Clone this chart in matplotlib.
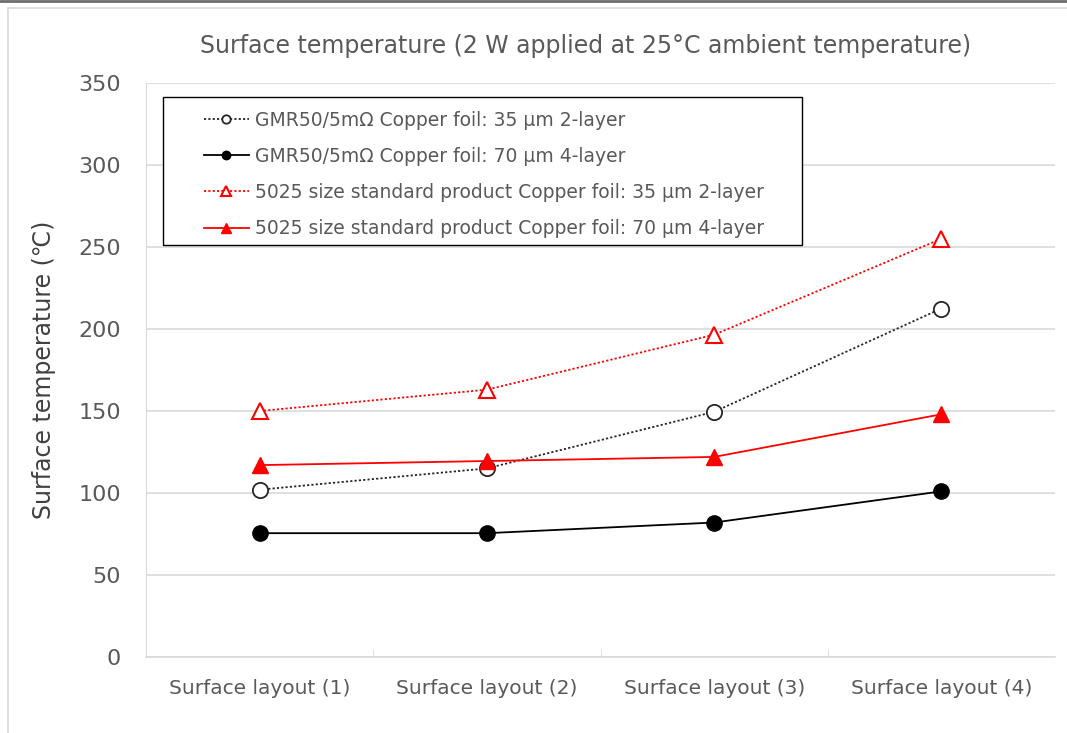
import matplotlib.pyplot as plt
from matplotlib.patches import Rectangle
import numpy as np

# Values
layouts = ['Surface layout (1)', 'Surface layout (2)', 'Surface layout (3)', 'Surface layout (4)']
gmr_35um_2layer = [102, 115, 149.5, 212.5]
gmr_70um_4layer = [75.5, 75.5, 82, 101]
std_35um_2layer = [150, 163, 196.5, 255]
std_70um_4layer = [117, 119.5, 122, 148]

labels = ['GMR50/5mΩ Copper foil: 35 μm 2-layer',
          'GMR50/5mΩ Copper foil: 70 μm 4-layer',
          '5025 size standard product Copper foil: 35 μm 2-layer',
          '5025 size standard product Copper foil: 70 μm 4-layer']

text_gray = '#595959'
grid_gray = '#d9d9d9'

fig = plt.figure(figsize=(10.67, 7.33), dpi=100)
ax = fig.add_axes([146 / 1067, 76 / 733, 909 / 1067, 574 / 733])

x = np.arange(len(layouts))

ax.plot(x, gmr_35um_2layer, color='#262626', linestyle=(0, (1.2, 1.2)), linewidth=1.3,
        marker='o', markersize=11, markerfacecolor='white', markeredgecolor='#262626',
        markeredgewidth=1.3, label=labels[0], zorder=4)
ax.plot(x, gmr_70um_4layer, color='black', linestyle='-', linewidth=1.3,
        marker='o', markersize=11, markerfacecolor='black', label=labels[1], zorder=4)
ax.plot(x, std_35um_2layer, color='#ff0000', linestyle=(0, (1.2, 1.2)), linewidth=1.3,
        marker='^', markersize=12, markerfacecolor='white', markeredgecolor='#ff0000',
        markeredgewidth=1.5, label=labels[2], zorder=4)
ax.plot(x, std_70um_4layer, color='#ff0000', linestyle='-', linewidth=1.3,
        marker='^', markersize=12, markerfacecolor='#ff0000', label=labels[3], zorder=4)

ax.set_xlim(-0.5, len(layouts) - 0.5)
ax.set_ylim(0, 350)
ax.set_yticks(np.arange(0, 351, 50))
ax.set_xticks(x)
ax.set_xticklabels(layouts, fontsize=14.5, color=text_gray)
ax.set_xticks(np.arange(0.5, len(layouts) - 0.5, 1), minor=True)
ax.tick_params(axis='x', which='major', length=0, pad=16)
ax.tick_params(axis='x', which='minor', direction='in', length=6, color=grid_gray)
ax.tick_params(axis='y', length=0, labelsize=16, labelcolor=text_gray, pad=18)

ax.grid(axis='y', color=grid_gray, linewidth=1.2)
ax.set_axisbelow(True)
for side in ['top', 'right']:
    ax.spines[side].set_visible(False)
ax.spines['left'].set_color(grid_gray)
ax.spines['bottom'].set_color(grid_gray)
ax.spines['bottom'].set_linewidth(1.2)

ax.set_ylabel('Surface temperature (℃)', fontsize=17, color='#404040', labelpad=16)
fig.text(586 / 1067, 1 - 46 / 733,
         'Surface temperature (2 W applied at 25°C ambient temperature)',
         ha='center', va='center', fontsize=17, color=text_gray)

# legend without its own frame; the box is drawn separately
ax.add_patch(Rectangle((163 / 1067, 1 - 245 / 733), 639 / 1067, 148 / 733,
                       transform=fig.transFigure, facecolor='white',
                       edgecolor='black', linewidth=1.0, zorder=5, clip_on=False))
leg = ax.legend(loc='upper left', bbox_to_anchor=(196 / 1067, 1 - 103 / 733),
                bbox_transform=fig.transFigure, fontsize=13.5, frameon=False,
                handlelength=2.4, labelspacing=0.92, borderpad=0.4, borderaxespad=0,
                markerscale=0.55, labelcolor=text_gray, handletextpad=0.35)
leg.set_zorder(6)

# chart frame
fig.add_artist(plt.Line2D([8 / 1067, 8 / 1067], [0, 1 - 8 / 733],
                          transform=fig.transFigure, color=grid_gray, linewidth=1.2))
fig.add_artist(plt.Line2D([8 / 1067, 1], [1 - 8 / 733, 1 - 8 / 733],
                          transform=fig.transFigure, color=grid_gray, linewidth=1.2))
fig.add_artist(plt.Line2D([0, 1], [1 - 1 / 733, 1 - 1 / 733],
                          transform=fig.transFigure, color='#6e6e6e', linewidth=2))

fig.savefig('out.png', dpi=100)
